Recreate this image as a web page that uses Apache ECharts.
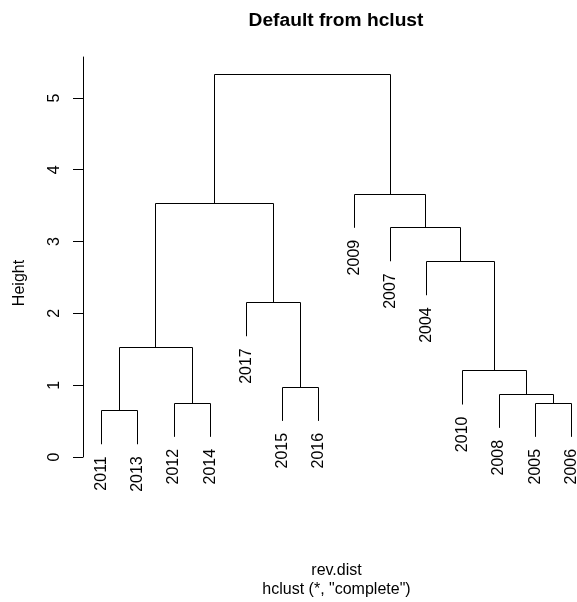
<!DOCTYPE html>
<html>
<head>
<meta charset="utf-8">
<script src="https://cdn.jsdelivr.net/npm/echarts@6/dist/echarts.min.js"></script>
<style>
  html, body { margin: 0; padding: 0; background: #fff; }
  #chart { width: 577px; height: 602px; }
</style>
</head>
<body>
<div id="chart"></div>
<script>
// Leaves in plotting order (x = 1..14)
const leafLabels = ['2011', '2013', '2012', '2014', '2017', '2015', '2016',
                    '2009', '2007', '2004', '2010', '2008', '2005', '2006'];

// hclust-style merge table: negative = leaf (1-based index into leafLabels),
// positive = result of an earlier merge step (1-based)
const mergeLeft   = [-1, -13, -3, -12, -6, -11, 1, -5, -10, -9, 7, -8, 11];
const mergeRight  = [-2, -14, -4, 2, -7, 4, 3, 5, 6, 9, 8, 10, 12];
const mergeHeight = [0.645, 0.748, 0.748, 0.873, 0.970, 1.198, 1.522,
                     2.149, 2.720, 3.193, 3.528, 3.659, 5.320];

const heightTicks = [0, 1, 2, 3, 4, 5];
const hang = 0.1;

// Leaves hang below their merge by a fraction of the height range
const hangDepth = hang * (Math.max(...mergeHeight) - Math.min(...mergeHeight));

const nodeX = [];      // x of each merge node
const branches = [];   // [xLeft, topLeft, xRight, topRight, height]
const leaves = [];     // [x, bottom of leaf line, label]

function childInfo(id, h) {
  if (id < 0) {
    const x = -id;
    const bottom = h - hangDepth;
    leaves.push([x, bottom, leafLabels[x - 1]]);
    return { x: x, top: bottom };
  }
  return { x: nodeX[id - 1], top: mergeHeight[id - 1] };
}

mergeHeight.forEach(function (h, i) {
  const l = childInfo(mergeLeft[i], h);
  const r = childInfo(mergeRight[i], h);
  nodeX[i] = (l.x + r.x) / 2;
  branches.push([l.x, l.top, r.x, r.top, h]);
});

const chart = echarts.init(document.getElementById('chart'), null, { renderer: 'canvas' });
const FONT = '"Liberation Sans", Arial, sans-serif';
const crisp = v => Math.round(v - 0.5) + 0.5;

chart.setOption({
  animation: false,
  backgroundColor: '#fff',
  textStyle: { fontFamily: FONT },
  title: {
    text: 'Default from hclust',
    left: 336,
    top: 11,
    textAlign: 'center',
    padding: 0,
    textStyle: { fontFamily: FONT, fontSize: 19.2, fontWeight: 'bold', color: '#000' }
  },
  grid: { left: 83, top: 57, width: 507, bottom: 145, outerBoundsMode: 'none', containLabel: false },
  xAxis: {
    type: 'value',
    min: 0.48,
    max: 14.52,
    name: 'rev.dist\nhclust (*, "complete")',
    nameLocation: 'middle',
    nameGap: 104,
    nameTextStyle: { fontFamily: FONT, fontSize: 16, color: '#000', lineHeight: 19.2 },
    axisLine: { show: false },
    axisTick: { show: false },
    axisLabel: { show: false },
    splitLine: { show: false }
  },
  yAxis: {
    type: 'value',
    min: 0,
    max: 5.57,
    name: 'Height',
    nameLocation: 'middle',
    nameRotate: 90,
    nameGap: 55,
    nameTextStyle: { fontFamily: FONT, fontSize: 16, color: '#000', padding: [0, 52, 0, 0] },
    axisLine: { show: true, lineStyle: { color: '#000', width: 1 } },
    axisTick: { show: true, length: 10, customValues: heightTicks, lineStyle: { color: '#000' } },
    axisLabel: {
      show: true, rotate: 90, margin: 20, customValues: heightTicks,
      fontFamily: FONT, fontSize: 16, color: '#000'
    },
    splitLine: { show: false }
  },
  series: [
    {
      type: 'custom',
      name: 'branches',
      clip: false,
      data: branches,
      renderItem: function (params, api) {
        const a = api.coord([api.value(0), api.value(1)]);
        const b = api.coord([api.value(0), api.value(4)]);
        const c = api.coord([api.value(2), api.value(4)]);
        const d = api.coord([api.value(2), api.value(3)]);
        return {
          type: 'polyline',
          shape: {
            points: [
              [crisp(a[0]), a[1]],
              [crisp(b[0]), crisp(b[1])],
              [crisp(c[0]), crisp(c[1])],
              [crisp(d[0]), d[1]]
            ]
          },
          style: { stroke: '#000', lineWidth: 1, fill: null }
        };
      }
    },
    {
      type: 'custom',
      name: 'leaf labels',
      clip: false,
      data: leaves,
      renderItem: function (params, api) {
        const p = api.coord([api.value(0), api.value(1)]);
        return {
          type: 'text',
          x: p[0],
          y: p[1] + 12,
          rotation: Math.PI / 2,
          style: {
            text: leaves[params.dataIndex][2],
            font: '16px ' + FONT,
            fill: '#000',
            align: 'right',
            verticalAlign: 'middle'
          }
        };
      }
    }
  ]
});
</script>
</body>
</html>
